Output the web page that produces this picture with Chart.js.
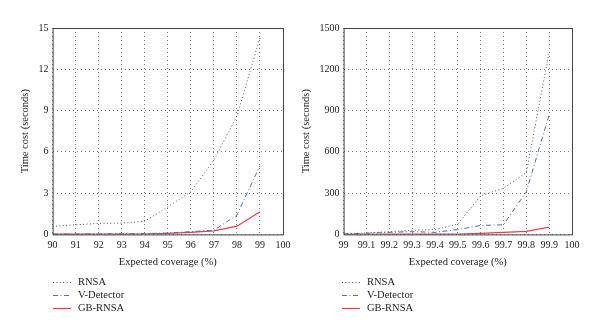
<!DOCTYPE html>
<html>
<head>
<meta charset="utf-8">
<script src="https://cdn.jsdelivr.net/npm/chart.js@4.4.1/dist/chart.umd.min.js"></script>
<style>
  html, body { margin: 0; padding: 0; background: #fff; }
  .row { display: flex; width: 600px; height: 336px; }
  .cell { position: relative; width: 300px; height: 336px; }
</style>
</head>
<body>
<div class="row">
  <div class="cell"><canvas id="chartLow"></canvas></div>
  <div class="cell"><canvas id="chartHigh"></canvas></div>
</div>
<script>
// Coverage 90% .. 99%
const coverageLow = [90, 91, 92, 93, 94, 95, 96, 97, 98, 99];
const rnsaLow = [0.58, 0.7, 0.8, 0.82, 0.95, 2.0, 3.1, 5.4, 8.6, 14.3];
const vDetectorLow = [0.03, 0.03, 0.04, 0.05, 0.06, 0.1, 0.2, 0.3, 1.4, 5.0];
const gbRnsaLow = [0.02, 0.02, 0.02, 0.02, 0.03, 0.07, 0.15, 0.25, 0.6, 1.65];
const yTicksLow = [0, 3, 6, 9, 12, 15];

// Coverage 99% .. 99.9%
const coverageHigh = [99, 99.1, 99.2, 99.3, 99.4, 99.5, 99.6, 99.7, 99.8, 99.9];
const rnsaHigh = [5, 10, 20, 30, 35, 75, 281, 335, 450, 1325];
const vDetectorHigh = [3, 8, 15, 20, 15, 35, 65, 70, 310, 870];
const gbRnsaHigh = [1, 1, 2, 2, 2, 3, 8, 15, 22, 53];
const yTicksHigh = [0, 300, 600, 900, 1200, 1500];

const FONT = "'Liberation Serif', 'DejaVu Serif', serif";
Chart.defaults.font.family = FONT;
Chart.defaults.font.size = 10;
Chart.defaults.color = '#222';

const seriesStyle = [
  { label: 'RNSA', color: '#4a5266', dash: [1, 2.4], width: 1 },
  { label: 'V-Detector', color: '#4f6fae', dash: [5, 2.5, 1, 2.5], width: 1 },
  { label: 'GB-RNSA', color: '#e2404a', dash: [], width: 1.2 }
];

// closed frame around the plot area
const framePlugin = {
  id: 'frame',
  afterDraw(chart) {
    const { ctx, chartArea: a } = chart;
    ctx.save();
    ctx.strokeStyle = '#444';
    ctx.lineWidth = 1;
    ctx.setLineDash([]);
    ctx.strokeRect(a.left + 0.5, a.top + 0.5, a.right - a.left, a.bottom - a.top);
    ctx.restore();
  }
};

// vertical legend under the axis title, line samples use each dataset's dash
const lineLegendPlugin = {
  id: 'lineLegend',
  afterDraw(chart, args, opts) {
    const { ctx } = chart;
    ctx.save();
    ctx.font = '10.5px ' + FONT;
    ctx.textBaseline = 'middle';
    chart.data.datasets.forEach((ds, i) => {
      const y = opts.top + i * 13;
      ctx.strokeStyle = ds.borderColor;
      ctx.lineWidth = ds.borderWidth;
      ctx.setLineDash(ds.borderDash || []);
      ctx.beginPath();
      ctx.moveTo(opts.left, y + 0.5);
      ctx.lineTo(opts.left + 18, y + 0.5);
      ctx.stroke();
      ctx.fillStyle = '#222';
      ctx.fillText(ds.label, opts.left + 25, y);
    });
    ctx.restore();
  }
};

function buildChart(id, xs, series, yTicks, xMin, xMax, xStep, pad, legendLeft) {
  const datasets = series.map((values, i) => ({
    label: seriesStyle[i].label,
    data: xs.map((x, j) => ({ x, y: values[j] })),
    borderColor: seriesStyle[i].color,
    borderDash: seriesStyle[i].dash,
    borderWidth: seriesStyle[i].width,
    pointRadius: 0,
    tension: 0,
    fill: false
  }));

  const gridStyle = {
    color: '#7a7a7a',
    lineWidth: 1,
    drawTicks: false
  };

  return new Chart(document.getElementById(id), {
    type: 'line',
    data: { datasets },
    options: {
      responsive: true,
      maintainAspectRatio: false,
      animation: false,
      layout: { padding: pad },
      scales: {
        x: {
          type: 'linear',
          min: xMin,
          max: xMax,
          grid: gridStyle,
          border: { display: false, dash: [1, 3] },
          ticks: {
            stepSize: xStep,
            padding: 5,
            maxRotation: 0,
            autoSkip: false,
            callback: v => String(Number(v.toFixed(1)))
          },
          title: {
            display: true,
            text: 'Expected coverage (%)',
            font: { size: 10.5 },
            padding: { top: 0, bottom: 0 }
          }
        },
        y: {
          min: yTicks[0],
          max: yTicks[yTicks.length - 1],
          grid: gridStyle,
          border: { display: false, dash: [1, 3] },
          ticks: {
            stepSize: yTicks[1] - yTicks[0],
            padding: 4,
            callback: v => String(v)
          },
          title: {
            display: true,
            text: 'Time cost (seconds)',
            font: { size: 10.5 },
            padding: { top: 0, bottom: 3 }
          }
        }
      },
      plugins: {
        legend: { display: false },
        tooltip: { enabled: false },
        lineLegend: { left: legendLeft, top: 282 }
      }
    },
    plugins: [framePlugin, lineLegendPlugin]
  });
}

buildChart('chartLow', coverageLow, [rnsaLow, vDetectorLow, gbRnsaLow],
  yTicksLow, 90, 100, 1,
  { left: 19, right: 17, top: 28, bottom: 67 }, 53);

buildChart('chartHigh', coverageHigh, [rnsaHigh, vDetectorHigh, gbRnsaHigh],
  yTicksHigh, 99, 100, 0.1,
  { left: 0, right: 28, top: 28, bottom: 67 }, 42);
</script>
</body>
</html>
